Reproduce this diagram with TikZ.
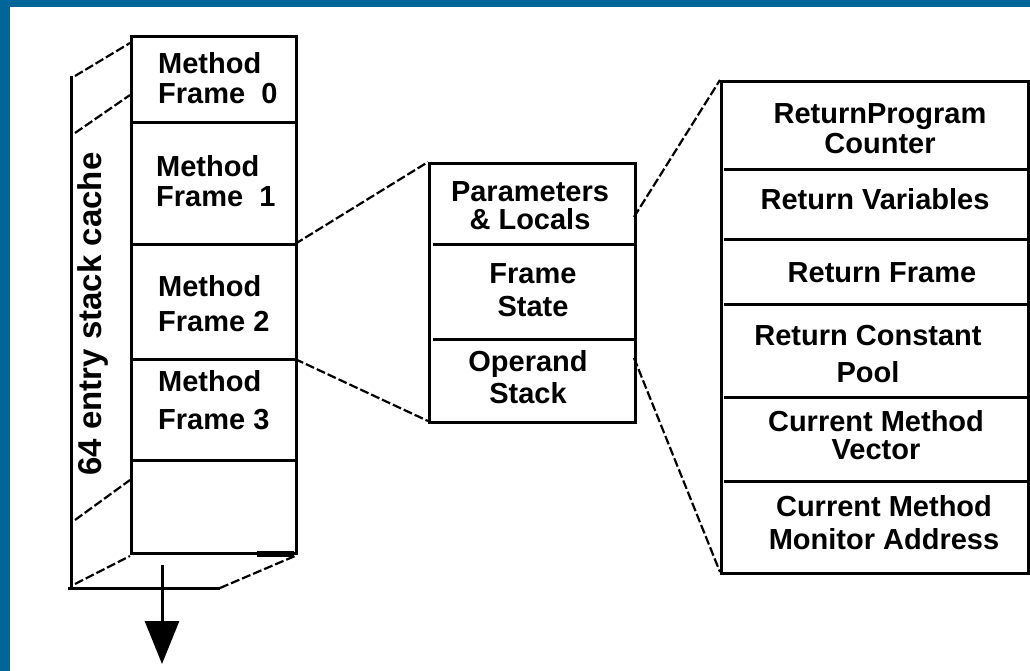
\documentclass[tikz,border=0pt]{standalone}
\usepackage{fontspec}
\setmainfont{Liberation Sans}
\usetikzlibrary{arrows.meta}
\definecolor{frameblue}{RGB}{0,102,153}
\begin{document}
\begin{tikzpicture}[x=1pt,y=-1pt,
  solidline/.style={line width=3pt},
  conn/.style={line width=2.2pt, dash pattern=on 9pt off 3pt},
  lbl/.style={inner sep=0pt, font=\fontsize{29}{30}\selectfont\bfseries, align=center},
  lbll/.style={inner sep=0pt, font=\fontsize{29}{30}\selectfont\bfseries, align=left, anchor=north west},
  boxnode/.style={draw, line width=3pt, inner sep=0pt, anchor=north west}]
% background and border
\fill[frameblue] (0,0) rectangle (1030,671);
\fill[white] (10,7) rectangle (1030,671);
\useasboundingbox (0,0) rectangle (1030,671);

% ---------- stack ----------
\node[boxnode, minimum width=165pt, minimum height=517pt] (stack) at (130,35) {};
\draw[solidline] (130,123) -- (295,123);
\draw[solidline] (130,244) -- (295,244);
\draw[solidline] (130,359) -- (295,359);
\draw[solidline] (130,460) -- (295,460);
\draw[line width=6pt] (257,554) -- (294,554);
% back edges
\coordinate (bt) at (71,76);
\coordinate (bb) at (71,588);
\coordinate (br) at (220,588);
\draw[solidline] (bt) -- (bb);
\draw[solidline] (68,588) -- (br);
\coordinate (s1a) at (75,76);   \coordinate (s1b) at (130,43);
\coordinate (s2a) at (75,133);  \coordinate (s2b) at (130,95);
\coordinate (s3a) at (75,520);  \coordinate (s3b) at (130,480);
\coordinate (s4a) at (75,584);  \coordinate (s4b) at (130,556);
\coordinate (s5b) at (295,556);
\draw[conn] (s1a) -- (s1b);
\draw[conn] (s2a) -- (s2b);
\draw[conn] (s3a) -- (s3b);
\draw[conn] (s4a) -- (s4b);
\draw[conn] (br) -- (s5b);

\node[lbll] (m0) at (158,52) {Method\\Frame\ \ 0};
\node[lbll] (m1) at (156,155) {Method\\Frame\ \ 1};
\node[lbll] (m2) at (158,275) {Method\\[5pt]Frame 2};
\node[lbll] (m3) at (158,370) {Method\\[8pt]Frame 3};

\node[inner sep=0pt, rotate=90, anchor=base, font=\fontsize{33}{36}\selectfont\bfseries] (cachelbl) at (101,314) {64 entry stack cache};

% arrow
\coordinate (arrs) at (162,565);
\coordinate (arre) at (162,664);
\draw[line width=3pt, -{Triangle[width=34pt,length=43pt]}] (arrs) -- (arre);

% ---------- middle frame ----------
\node[boxnode, minimum width=206pt, minimum height=259pt] (mid) at (428,162) {};
\draw[solidline] (433,244) -- (634,244);
\draw[solidline] (433,339) -- (634,339);
\node[lbl, anchor=north] (p1) at (530,181) {Parameters\\[-2pt]\& Locals};
\node[lbl, anchor=north] (p2) at (533,263) {Frame\\[3pt]State};
\node[lbl, anchor=north] (p3) at (528,350) {Operand\\[2pt]Stack};

\coordinate (st1) at (295,244);
\coordinate (st2) at (295,359);
\coordinate (md1) at (428,162);
\coordinate (md2) at (428,421);
\draw[conn] (st1) -- (md1);
\draw[conn] (st2) -- (md2);

% ---------- right frame ----------
\node[boxnode, minimum width=307pt, minimum height=492pt] (right) at (720,80) {};
\draw[solidline] (724,170) -- (1027,170);
\draw[solidline] (724,239) -- (1027,239);
\draw[solidline] (724,304) -- (1027,304);
\draw[solidline] (724,397) -- (1027,397);
\draw[solidline] (724,481) -- (1027,481);
\node[lbl, anchor=north] (r1) at (880,103) {ReturnProgram\\Counter};
\node[lbl, anchor=north] (r2) at (875,188) {Return Variables};
\node[lbl, anchor=north] (r3) at (882,262) {Return Frame};
\node[lbl, anchor=north] (r4) at (868,325) {Return Constant\\[7pt]Pool};
\node[lbl, anchor=north] (r5) at (876,410) {Current Method\\[-2pt]Vector};
\node[lbl, anchor=north] (r6) at (884,495) {Current Method\\[3pt]Monitor Address};

\coordinate (mr1) at (634,217);
\coordinate (mr2) at (634,358);
\coordinate (rt) at (720,80);
\coordinate (rb) at (720,572);
\draw[conn] (mr1) -- (rt);
\draw[conn] (mr2) -- (rb);
\end{tikzpicture}
\end{document}
